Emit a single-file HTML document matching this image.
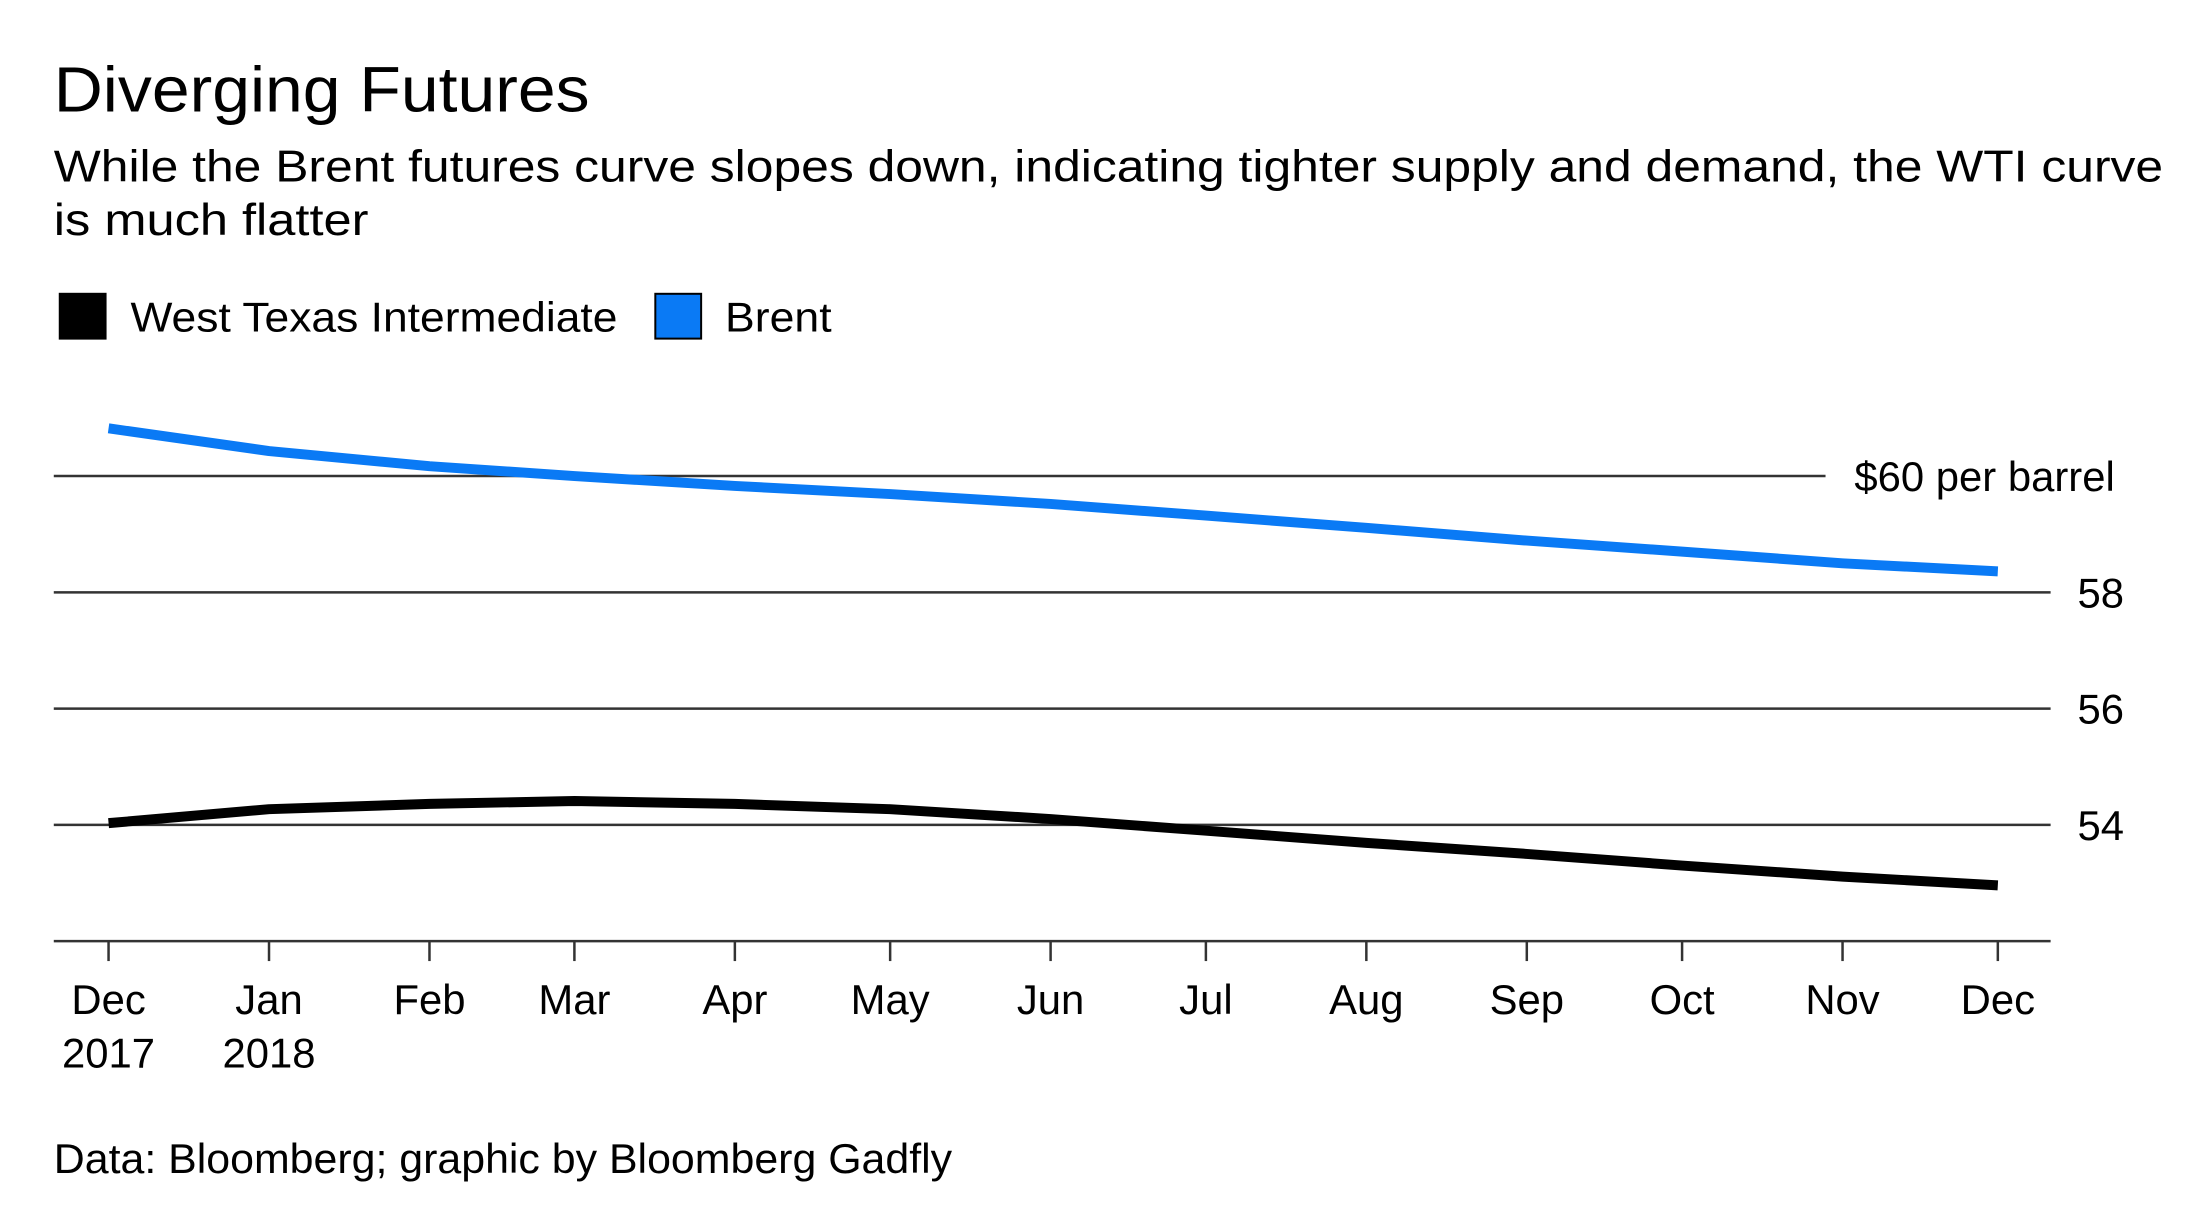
<!DOCTYPE html>
<html><head><meta charset="utf-8"><style>
html,body{margin:0;padding:0;background:#fff;}
svg{display:block;font-family:"Liberation Sans",Arial,sans-serif;}
</style></head><body>
<svg id="chart" width="2200" height="1224" viewBox="0 0 2209 1229" preserveAspectRatio="xMinYMin meet">
<text x="54" y="112" font-size="64" fill="#000" textLength="538" lengthAdjust="spacingAndGlyphs">Diverging Futures</text>
<text x="54" y="182" font-size="45" fill="#000" textLength="2118" lengthAdjust="spacingAndGlyphs">While the Brent futures curve slopes down, indicating tighter supply and demand, the WTI curve</text>
<text x="54" y="236" font-size="45" fill="#000" textLength="316" lengthAdjust="spacingAndGlyphs">is much flatter</text>
<g>
<rect x="59" y="294" width="48" height="47" fill="#000"/>
<text x="131" y="333" font-size="42" textLength="489" lengthAdjust="spacingAndGlyphs">West Texas Intermediate</text>
<rect x="658" y="295" width="46" height="45" fill="#0a7af5" stroke="#000" stroke-width="2"/>
<text x="728" y="333" font-size="42" textLength="107" lengthAdjust="spacingAndGlyphs">Brent</text>
</g>
<g id="grid"></g><g id="xaxis"></g><g id="lines"></g>
<text x="54" y="1178" font-size="42" textLength="902" lengthAdjust="spacingAndGlyphs">Data: Bloomberg; graphic by Bloomberg Gadfly</text>
</svg>
<script>
const months = ["Dec","Jan","Feb","Mar","Apr","May","Jun","Jul","Aug","Sep","Oct","Nov","Dec"];
const years = ["2017","2018","","","","","","","","","","",""];
const dayOffsets = [0,31,62,90,121,151,182,212,243,274,304,335,365];
const brent = [60.82,60.43,60.17,60.0,59.83,59.69,59.52,59.32,59.11,58.89,58.70,58.50,58.36];
const wti = [54.03,54.27,54.36,54.41,54.36,54.27,54.10,53.90,53.69,53.50,53.30,53.11,52.96];
const yTicks = [54,56,58,60];
const yTickLabels = ["54","56","58","$60 per barrel"];

const NS="http://www.w3.org/2000/svg";
const X0=109, X1=2006, XL=54, XR=2059;
const x = d => X0 + d*(X1-X0)/365;
const y = v => 945 - (v-52)*(945-478)/8;
function mk(tag, attrs, parent){const e=document.createElementNS(NS,tag);for(const k in attrs)e.setAttribute(k,attrs[k]);parent.appendChild(e);return e;}
const grid=document.getElementById('grid');
yTicks.forEach((t,i)=>{
  const last = i===yTicks.length-1;
  const ln=mk('line',{x1:XL,x2:last?1833:XR,y1:y(t),y2:y(t),stroke:'#333',"stroke-width":2.5},grid);
  
  
  const tx=mk('text',{x:last?1862:2086,y:y(t)+15,"font-size":42},grid);
  tx.textContent=yTickLabels[i];
  
  
});
const xa=document.getElementById('xaxis');
const ax=mk('line',{x1:XL,x2:XR,y1:945,y2:945,stroke:'#333',"stroke-width":2.5},xa);


months.forEach((m,i)=>{
  const px=x(dayOffsets[i]);
  const tk=mk('line',{x1:px,x2:px,y1:945,y2:965,stroke:'#333',"stroke-width":2.5},xa);
  
  
  const t=mk('text',{x:px,y:1018,"font-size":42,"text-anchor":"middle"},xa);
  t.textContent=m;
  
  
  if(years[i]){
    const t2=mk('text',{x:px,y:1072,"font-size":42,"text-anchor":"middle"},xa);
    t2.textContent=years[i];
    
    
  }
});
const lg=document.getElementById('lines');
function drawLine(vals,color,name){
  const pts=vals.map((v,i)=>x(dayOffsets[i]).toFixed(1)+','+y(v).toFixed(1)).join(' ');
  const p=mk('polyline',{points:pts,fill:'none',stroke:color,"stroke-width":10,"stroke-linejoin":"round"},lg);
  
  
}
drawLine(brent,'#0a7af5','brent-line');
drawLine(wti,'#000','wti-line');
</script>
</body></html>
